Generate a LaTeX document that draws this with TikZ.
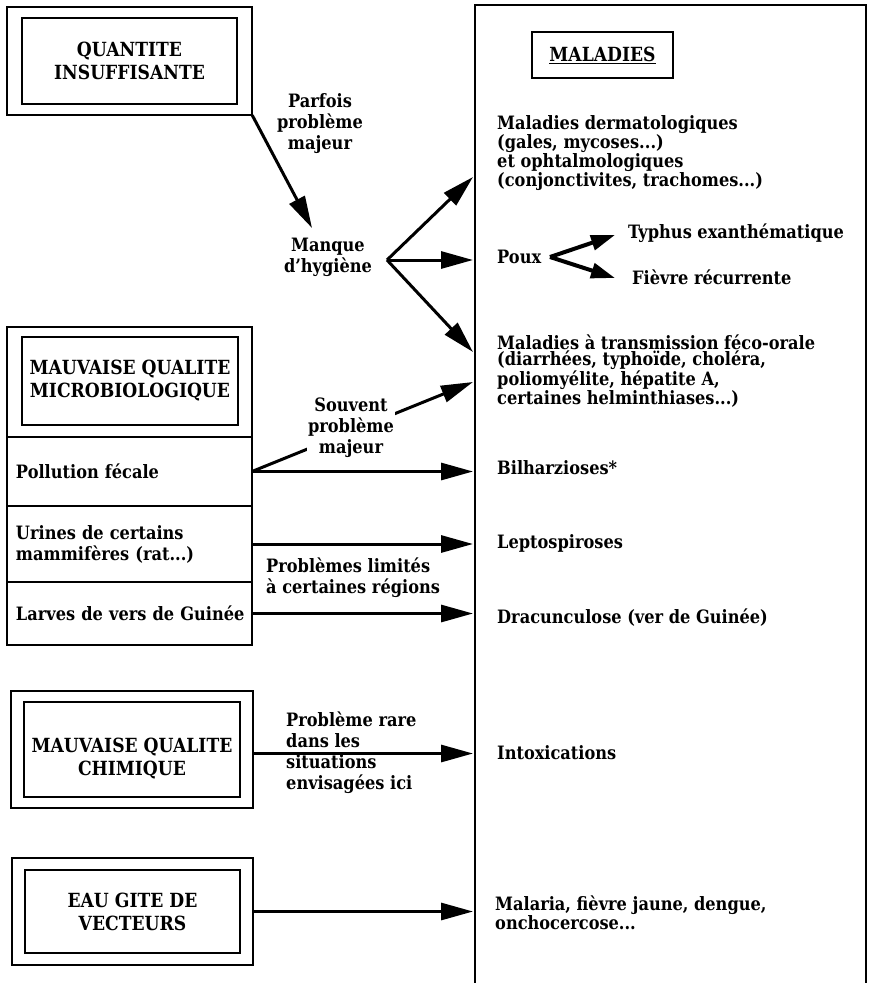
\documentclass[tikz,border=0pt]{standalone}
\usepackage{fontspec}
\setmainfont{DejaVu Serif}[FakeStretch=0.88]
\usetikzlibrary{arrows.meta,positioning,fit}

\newcommand{\titfont}{\fontsize{19.5}{23}\selectfont\bfseries}
\newcommand{\lblfont}{\fontsize{18.4}{21}\selectfont\bfseries}
\newcommand{\malfont}{\fontsize{18.4}{16.7}\selectfont\bfseries}

\tikzset{
  titre/.style={draw, line width=2.5pt, font=\titfont, align=center, minimum width=215pt, minimum height=86pt, inner sep=0pt},
  cadre/.style={draw, line width=2pt, inner sep=0pt, outer sep=0pt},
  cell/.style={cadre, minimum width=245pt, font=\lblfont, text width=227pt, align=left, inner xsep=9pt},
  lbl/.style={font=\lblfont, align=center, inner sep=1pt},
  mal/.style={font=\malfont, align=left, anchor=west, inner sep=0pt},
  fleche/.style={line width=3pt, -{Triangle[length=32pt,width=17pt]}},
  petite/.style={line width=4pt, -{Triangle[length=24pt,width=15pt]}},
}

\begin{document}
\begin{tikzpicture}[x=1pt, y=-1pt]
\useasboundingbox (0,0) rectangle (869,983);

\node[titre] (quant) at (129.5,61) {QUANTITE\\INSUFFISANTE};
\node[cadre, fit=(quant), inner xsep=14pt, inner ysep=10pt] (quantbox) {};

\node[cadre, minimum width=245pt, minimum height=110pt] (microbox) at (129.5,382) {};
\node[titre, minimum width=216pt, minimum height=88pt] (micro) at (130,381) {MAUVAISE QUALITE\\MICROBIOLOGIQUE};
\node[cell, minimum height=69pt, below=0pt of microbox] (pollu) {Pollution fécale};
\node[cell, minimum height=76pt, below=0pt of pollu] (urines) {Urines de certains\\mammifères (rat...)};
\node[cell, minimum height=63pt, below=0pt of urines] (larves) {\mbox{Larves de vers de Guinée}};

\node[titre, minimum width=216pt, minimum height=95pt, label={[font=\titfont, align=center, yshift=-9pt]center:{MAUVAISE QUALITE\\CHIMIQUE}}] (chim) at (132,749.5) {};
\node[cadre, fit=(chim), inner xsep=12pt, inner ysep=10pt] (chimbox) {};

\node[titre, minimum width=215pt, minimum height=83pt] (eau) at (132.5,911.5) {EAU GITE DE\\VECTEURS};
\node[cadre, fit=(eau), inner xsep=12pt, inner ysep=11pt] (eaubox) {};

\node[cadre, anchor=north west, minimum width=391pt, minimum height=1100pt] (malbox) at (475,5) {};
\node[cadre, font=\titfont, minimum width=141pt, minimum height=46pt] (maltit) at (602.5,55) {\underline{MALADIES}};

\node[mal] (derm) at (497,153) {Maladies dermatologiques\\(gales, mycoses...)\\et ophtalmologiques\\(conjonctivites, trachomes...)};
\node[mal] (poux) at (497,257) {Poux};
\node[mal] (typhus) at (628,233) {Typhus exanthématique};
\node[mal] (fievre) at (632,277) {Fièvre récurrente};
\node[mal] (fecor) at (497,371) {Maladies à transmission féco-orale\\(diarrhées, typhoïde, choléra,\\poliomyélite, hépatite A,\\certaines helminthiases...)};
\node[mal] (bilh) at (497,468) {Bilharzioses*};
\node[mal] (lepto) at (497,543) {Leptospiroses};
\node[mal] (dracun) at (497,618) {Dracunculose (ver de Guinée)};
\node[mal] (intox) at (497,753) {Intoxications};
\node[mal] (malaria) at (495,912.5) {Malaria, fièvre jaune, dengue,\\onchocercose...};

\coordinate (hyg) at (387,260);
\coordinate (pxf) at (550,257);

\node[lbl] (parfois) at (320,124) {Parfois\\problème\\majeur};
\node[lbl] (manque) at (328,257) {Manque\\d'hygiène};
\draw[fleche] (quantbox.south east) -- (312,228);
\draw[fleche] (hyg) -- (473,177);
\draw[fleche] (hyg) -- (473,260);
\draw[fleche] (hyg) -- (473,352);
\draw[petite] (pxf) -- ([xshift=-13pt,yshift=-2pt]typhus.west);
\draw[petite] (pxf) -- ([xshift=-17pt,yshift=-1pt]fievre.west);

\draw[fleche] (pollu.east) -- (473,382);
\node[lbl, fill=white] (souvent) at (351,428) {Souvent\\problème\\majeur};
\draw[fleche] (pollu.east) -- ([xshift=-2pt]pollu.east -| malbox.west);
\draw[fleche] (urines.east) -- ([xshift=-2pt]urines.east -| malbox.west);
\node[lbl, anchor=west, align=left] (limites) at (265,578) {Problèmes limités\\à certaines régions};
\draw[fleche] (larves.east) -- ([xshift=-2pt]larves.east -| malbox.west);

\draw[fleche] ([yshift=-4pt]chimbox.east) -- ([xshift=-2pt,yshift=-4pt]chimbox.east -| malbox.west);
\node[lbl, anchor=west, align=left] (rare) at (285,752.5) {Problème rare\\dans les\\situations\\envisagées ici};
\draw[fleche] (eaubox.east) -- ([xshift=-2pt]eaubox.east -| malbox.west);

\end{tikzpicture}
\end{document}
